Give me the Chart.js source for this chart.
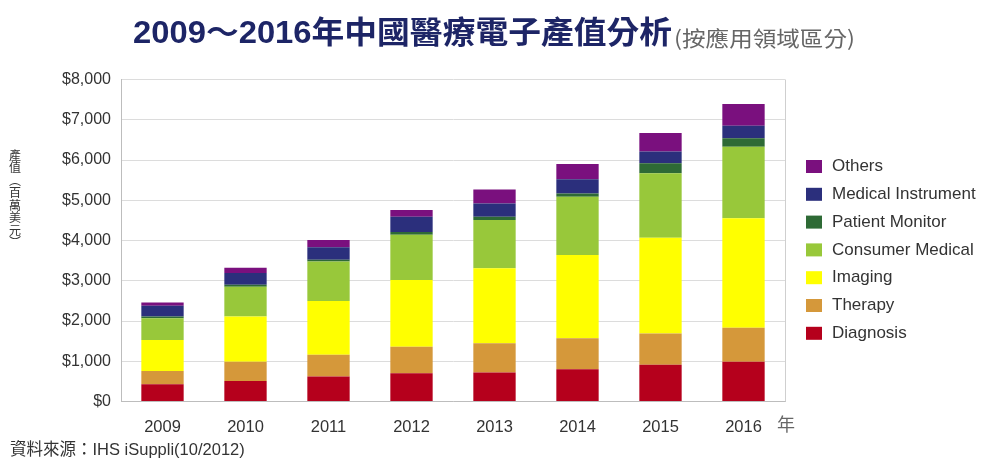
<!DOCTYPE html>
<html>
<head>
<meta charset="utf-8">
<script src="https://cdn.jsdelivr.net/npm/chart.js@4.4.1/dist/chart.umd.min.js"></script>
<style>
  html, body { margin: 0; padding: 0; background: #fff; }
  #wrap { width: 981px; height: 462px; position: relative; }
</style>
</head>
<body>
<div id="wrap"><canvas id="myChart" width="981" height="462"></canvas></div>
<script>
// data (US$ million)
const years = ['2009', '2010', '2011', '2012', '2013', '2014', '2015', '2016'];
const diagnosis = [430, 510, 620, 700, 720, 800, 910, 990];
const therapy = [330, 480, 540, 660, 730, 770, 780, 840];
const imaging = [770, 1120, 1340, 1660, 1860, 2070, 2380, 2720];
const consumerMedical = [540, 740, 980, 1120, 1200, 1450, 1600, 1780];
const patientMonitor = [40, 50, 40, 70, 80, 80, 250, 210];
const medicalInstrument = [270, 290, 310, 380, 330, 350, 290, 310];
const others = [80, 130, 180, 170, 350, 380, 460, 540];
const yTickValues = [0, 1000, 2000, 3000, 4000, 5000, 6000, 7000, 8000];

const titleMain = '2009～2016年中國醫療電子產值分析';
const titleSub = '(按應用領域區分)';
const yTitleChars = ['產', '值', '︵', '百', '萬', '美', '元', '︶'];
const sourceText = '資料來源：IHS iSuppli(10/2012)';
const xUnit = '年';

const CJK = '"Noto Sans CJK TC", "Noto Sans CJK SC", sans-serif';
const LAT = '"Liberation Sans", Arial, sans-serif';
const MIX = '"Liberation Sans", "Noto Sans CJK TC", sans-serif';

// draws the texts and the legend the chart needs around the plot
const extras = {
    id: 'extras',
    afterDraw(chart) {
        const ctx = chart.ctx;
        const area = chart.chartArea;
        ctx.save();

        // right border of plot
        ctx.strokeStyle = '#cfcfcf';
        ctx.lineWidth = 1;
        ctx.beginPath();
        ctx.moveTo(Math.round(area.right) + 0.5, area.top);
        ctx.lineTo(Math.round(area.right) + 0.5, area.bottom);
        ctx.stroke();

        // title, squeezed into the width it has in the picture
        ctx.textBaseline = 'middle';
        ctx.textAlign = 'left';
        ctx.fillStyle = '#1d2566';
        ctx.font = 'bold 31px ' + MIX;
        let w = ctx.measureText(titleMain).width;
        ctx.save();
        ctx.translate(133, 34);
        ctx.scale(539 / w, 1);
        ctx.fillText(titleMain, 0, 0);
        ctx.restore();

        ctx.fillStyle = '#666';
        ctx.font = '21px ' + CJK;
        w = ctx.measureText(titleSub).width;
        ctx.save();
        ctx.translate(674, 38);
        ctx.scale(181 / w, 1);
        ctx.fillText(titleSub, 0, 0);
        ctx.restore();

        // vertical y title
        ctx.fillStyle = '#333';
        ctx.font = '12px ' + CJK;
        ctx.textAlign = 'center';
        yTitleChars.forEach((c, i) => ctx.fillText(c, 15, 155 + i * 12.5));

        // unit after the x labels
        ctx.fillStyle = '#666';
        ctx.font = '18px ' + CJK;
        ctx.fillText(xUnit, 786, 424);

        // source
        ctx.textAlign = 'left';
        ctx.fillStyle = '#333';
        ctx.font = '16.5px ' + MIX;
        ctx.fillText(sourceText, 10, 450);

        // legend, top item = last dataset
        const sets = chart.data.datasets.slice().reverse();
        ctx.font = '17px ' + LAT;
        sets.forEach((ds, i) => {
            const y = 166.5 + i * 27.8;
            ctx.fillStyle = ds.backgroundColor;
            ctx.fillRect(806, y - 6.5, 16, 13);
            ctx.fillStyle = '#333';
            ctx.fillText(ds.label, 832, y);
        });
        ctx.restore();
    }
};

const ctx = document.querySelector('#myChart');
const data = {
    labels: years,
    datasets: [
        { label: 'Diagnosis', data: diagnosis, backgroundColor: '#b5001c' },
        { label: 'Therapy', data: therapy, backgroundColor: '#d5983a' },
        { label: 'Imaging', data: imaging, backgroundColor: '#ffff00' },
        { label: 'Consumer Medical', data: consumerMedical, backgroundColor: '#98c83a' },
        { label: 'Patient Monitor', data: patientMonitor, backgroundColor: '#2e6a35' },
        { label: 'Medical Instrument', data: medicalInstrument, backgroundColor: '#2b2f7c' },
        { label: 'Others', data: others, backgroundColor: '#7a107e' }
    ]
};

const config = {
    type: 'bar',
    data: data,
    options: {
        responsive: false,
        animation: false,
        layout: { padding: { left: 0, top: 79.5, right: 196, bottom: 0 } },
        datasets: { bar: { categoryPercentage: 1, barPercentage: 0.51 } },
        plugins: {
            legend: { display: false },
            title: { display: false },
            tooltip: { enabled: false }
        },
        scales: {
            x: {
                stacked: true,
                grid: { display: false },
                border: { color: '#bdbdbd' },
                ticks: { color: '#333', font: { family: LAT, size: 16.5 }, padding: 8 },
                afterFit(scale) { scale.height = 60.5; }
            },
            y: {
                stacked: true,
                min: 0,
                max: 8000,
                afterBuildTicks(scale) { scale.ticks = yTickValues.map(v => ({ value: v })); },
                grid: { color: '#dcdcdc', drawTicks: false },
                border: { color: '#bdbdbd' },
                ticks: {
                    color: '#333',
                    font: { family: LAT, size: 16 },
                    padding: 10,
                    callback: v => '$' + v.toLocaleString('en-US')
                },
                afterFit(scale) { scale.width = 121; }
            }
        }
    },
    plugins: [extras]
};

new Chart(ctx, config);
</script>
</body>
</html>
